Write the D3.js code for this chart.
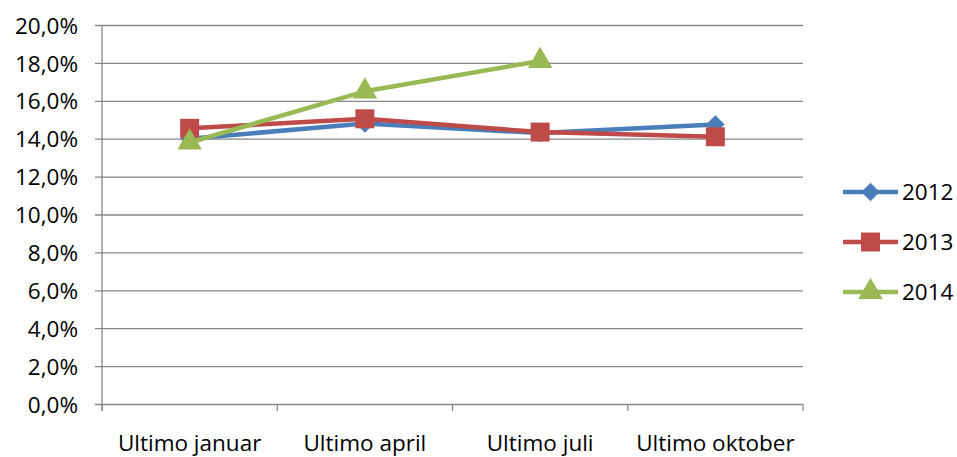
<!DOCTYPE html>
<html>
<head>
<meta charset="utf-8">
<script src="https://cdn.jsdelivr.net/npm/d3@7"></script>
<style>
  body { margin: 0; background: #fff; }
  text { font-family: "Open Sans", Lato, sans-serif; fill: #000; }
</style>
</head>
<body>
<div id="svg-container"></div>
<script>
// data
const categories = ["Ultimo januar", "Ultimo april", "Ultimo juli", "Ultimo oktober"];
const years = ["2012", "2013", "2014"];
const values2012 = [14.0, 14.8, 14.3, 14.75];
const values2013 = [14.55, 15.05, 14.35, 14.1];
const values2014 = [13.8, 16.5, 18.1];
const yTicks = [0, 2, 4, 6, 8, 10, 12, 14, 16, 18, 20];
const colors = ["#4a7ebb", "#be4b48", "#98b954"];

const width = 957, height = 457;
const margin = { top: 25, right: 154, bottom: 53, left: 102 };
const fontSize = "22.5px";

const svg = d3.select("#svg-container").append("svg")
  .attr("width", width).attr("height", height);

const x = d3.scaleBand().domain(categories)
  .range([margin.left, width - margin.right]);
const y = d3.scaleLinear().domain([0, 20])
  .range([height - margin.bottom, margin.top]);

const fmt = (d) => d3.format(".1f")(d).replace(".", ",") + "%";

// grid + y axis
const yAxis = d3.axisLeft(y).tickValues(yTicks).tickFormat(fmt)
  .tickSize(-(width - margin.right - margin.left)).tickSizeOuter(0).tickPadding(24);
const gy = svg.append("g").attr("transform", `translate(${margin.left},0)`).call(yAxis);
gy.select(".domain").remove();
gy.selectAll("line").attr("stroke", "#878787").attr("stroke-width", 1.3).attr("x1", -7);
gy.selectAll("text").style("font-size", fontSize).attr("dy", "0.36em");

// vertical axis line
svg.append("line")
  .attr("x1", margin.left).attr("x2", margin.left)
  .attr("y1", margin.top).attr("y2", height - margin.bottom + 7)
  .attr("stroke", "#878787").attr("stroke-width", 1.3);

// x axis
const xEdges = categories.map((c) => x(c)).concat([x.range()[1]]);
svg.append("g").selectAll("line").data(xEdges).join("line")
  .attr("x1", (d) => d).attr("x2", (d) => d)
  .attr("y1", height - margin.bottom).attr("y2", height - margin.bottom + 7)
  .attr("stroke", "#878787").attr("stroke-width", 1.3);
svg.append("g").selectAll("text").data(categories).join("text")
  .attr("x", (d) => x(d) + x.bandwidth() / 2)
  .attr("y", height - 6)
  .attr("text-anchor", "middle")
  .style("font-size", fontSize)
  .text((d) => d);

// series (diamond = rotated square)
const series = [values2012, values2013, values2014];
const symbols = [d3.symbolSquare, d3.symbolSquare, d3.symbolTriangle];
const symSize = [170, 360, 260];
const symRot = [45, 0, 0];

const line = d3.line()
  .x((d, i) => x(categories[i]) + x.bandwidth() / 2)
  .y((d) => y(d));

series.forEach((vals, s) => {
  svg.append("path").datum(vals)
    .attr("fill", "none").attr("stroke", colors[s])
    .attr("stroke-width", 4.5).attr("stroke-linejoin", "round")
    .attr("d", line);
  svg.append("g").selectAll("path").data(vals).join("path")
    .attr("transform", (d, i) => `translate(${x(categories[i]) + x.bandwidth() / 2},${y(d)}) rotate(${symRot[s]})`)
    .attr("d", d3.symbol().type(symbols[s]).size(symSize[s]))
    .attr("fill", colors[s]);
});

// legend
const legend = svg.append("g").selectAll("g").data(years).join("g")
  .attr("transform", (d, i) => `translate(843,${192 + i * 50})`);
legend.append("line").attr("x1", 0).attr("x2", 55)
  .attr("stroke", (d, i) => colors[i]).attr("stroke-width", 4.5);
legend.append("path")
  .attr("transform", (d, i) => `translate(27.5,0) rotate(${symRot[i]})`)
  .attr("d", (d, i) => d3.symbol().type(symbols[i]).size(symSize[i])())
  .attr("fill", (d, i) => colors[i]);
legend.append("text").attr("x", 59).attr("dy", "0.36em")
  .style("font-size", fontSize).text((d) => d);
</script>
</body>
</html>
